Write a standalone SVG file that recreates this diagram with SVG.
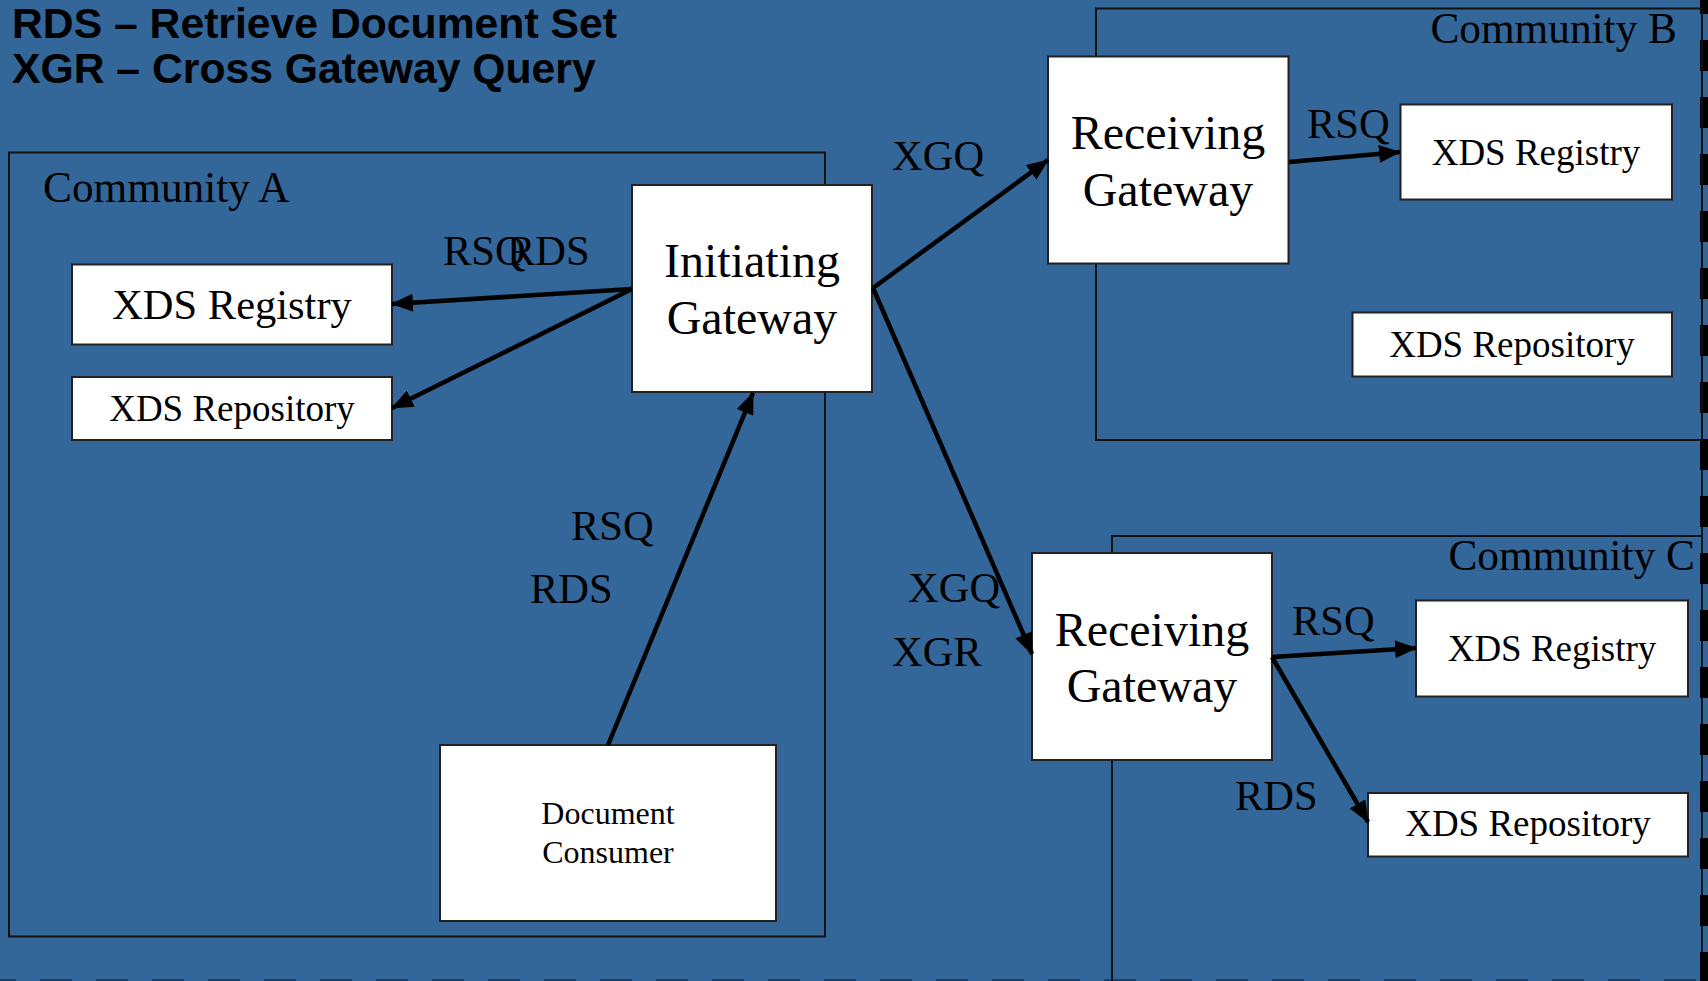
<svg xmlns="http://www.w3.org/2000/svg" width="1708" height="981" viewBox="0 0 1708 981">
<style>
.bg{fill:#336699}
.comm{fill:none;stroke:#111;stroke-width:2}
.box{fill:#fff;stroke:#222;stroke-width:2}
.t{font-family:"Liberation Serif","Times New Roman",serif;fill:#000}
.title{font-family:"Liberation Sans",Arial,sans-serif;font-weight:bold;font-size:42.7px;fill:#000}
.big{font-size:48px}
.n42{font-size:42.5px}
.n43{font-size:43.3px}
.n37{font-size:37px}
.n32{font-size:32px}
.lbl{font-size:42.5px}
.c{text-anchor:middle}
.e{text-anchor:end}
.conn line{stroke:#000;stroke-width:4.5;marker-end:url(#ah)}
</style>
<defs>
<marker id="ah" markerUnits="userSpaceOnUse" markerWidth="22" markerHeight="18" viewBox="0 0 22 18" refX="21" refY="9" orient="auto">
<path d="M0,0 L22,9 L0,18 Z" fill="#000"/>
</marker>
</defs>
<rect class="bg" x="0" y="0" width="1708" height="981"/>
<line x1="1702" y1="0" x2="1702" y2="981" stroke="#000" stroke-width="1.5"/>
<line x1="1704" y1="0" x2="1704" y2="981" stroke="#000" stroke-width="8" stroke-dasharray="31 26" stroke-dashoffset="17"/>
<line x1="0" y1="981" x2="1700" y2="981" stroke="#1f3f63" stroke-width="4" stroke-dasharray="32 24" stroke-dashoffset="16"/>

<g id="legend">
<text class="title" x="12" y="38">RDS – Retrieve Document Set</text>
<text class="title" x="12" y="83">XGR – Cross Gateway Query</text>
</g>

<g id="community-a">
<rect class="comm" x="9" y="152.5" width="816" height="784"/>
<text class="t n43" x="43" y="202">Community A</text>
</g>
<g id="community-b">
<rect class="comm" x="1096" y="8.5" width="606" height="431.5"/>
<text class="t n43 e" x="1677" y="43">Community B</text>
</g>
<g id="community-c">
<path class="comm" d="M1112,990 V536 H1702"/>
<text class="t n43 e" x="1695" y="570">Community C</text>
</g>

<g id="xds-registry-a">
<rect class="box" x="72" y="264.5" width="320" height="80"/>
<text class="t n42 c" x="232" y="319">XDS Registry</text>
</g>
<g id="xds-repository-a">
<rect class="box" x="72" y="377" width="320" height="63"/>
<text class="t n37 c" x="232" y="421">XDS Repository</text>
</g>
<g id="initiating-gateway">
<rect class="box" x="632" y="185" width="240" height="207"/>
<text class="t big c" x="752" y="277">Initiating</text>
<text class="t big c" x="752" y="334">Gateway</text>
</g>
<g id="document-consumer">
<rect class="box" x="440" y="745" width="336" height="176"/>
<text class="t n32 c" x="608" y="824">Document</text>
<text class="t n32 c" x="608" y="863">Consumer</text>
</g>
<g id="receiving-gateway-b">
<rect class="box" x="1048" y="56.5" width="240.5" height="207"/>
<text class="t big c" x="1168" y="149">Receiving</text>
<text class="t big c" x="1168" y="206">Gateway</text>
</g>
<g id="xds-registry-b">
<rect class="box" x="1400.5" y="104.5" width="271.5" height="95"/>
<text class="t n37 c" x="1536" y="165">XDS Registry</text>
</g>
<g id="xds-repository-b">
<rect class="box" x="1352.5" y="312.5" width="319.5" height="64"/>
<text class="t n37 c" x="1512" y="357">XDS Repository</text>
</g>
<g id="receiving-gateway-c">
<rect class="box" x="1032" y="553" width="240" height="207"/>
<text class="t big c" x="1152" y="646">Receiving</text>
<text class="t big c" x="1152" y="702">Gateway</text>
</g>
<g id="xds-registry-c">
<rect class="box" x="1416" y="600.5" width="272" height="96"/>
<text class="t n37 c" x="1552" y="661">XDS Registry</text>
</g>
<g id="xds-repository-c">
<rect class="box" x="1368" y="793" width="320" height="63.5"/>
<text class="t n37 c" x="1528" y="836">XDS Repository</text>
</g>

<g id="connectors" class="conn">
<line x1="632" y1="289" x2="392" y2="304"/>
<line x1="632" y1="289" x2="392" y2="408"/>
<line x1="608" y1="745" x2="753" y2="393"/>
<line x1="873" y1="288" x2="1048" y2="160"/>
<line x1="873" y1="288" x2="1032" y2="654"/>
<line x1="1289" y1="162" x2="1400" y2="152"/>
<line x1="1272" y1="657" x2="1416" y2="648"/>
<line x1="1272" y1="657" x2="1368" y2="822"/>
</g>

<g id="labels">
<text class="t lbl" x="443" y="265">RSQ<tspan x="507">RDS</tspan></text>
<text class="t lbl" x="571" y="540">RSQ</text>
<text class="t lbl" x="530" y="603">RDS</text>
<text class="t lbl" x="892" y="170">XGQ</text>
<text class="t lbl" x="1307" y="138">RSQ</text>
<text class="t lbl" x="908" y="602">XGQ</text>
<text class="t lbl" x="892" y="666">XGR</text>
<text class="t lbl" x="1292" y="635">RSQ</text>
<text class="t lbl" x="1235" y="810">RDS</text>
</g>
</svg>
